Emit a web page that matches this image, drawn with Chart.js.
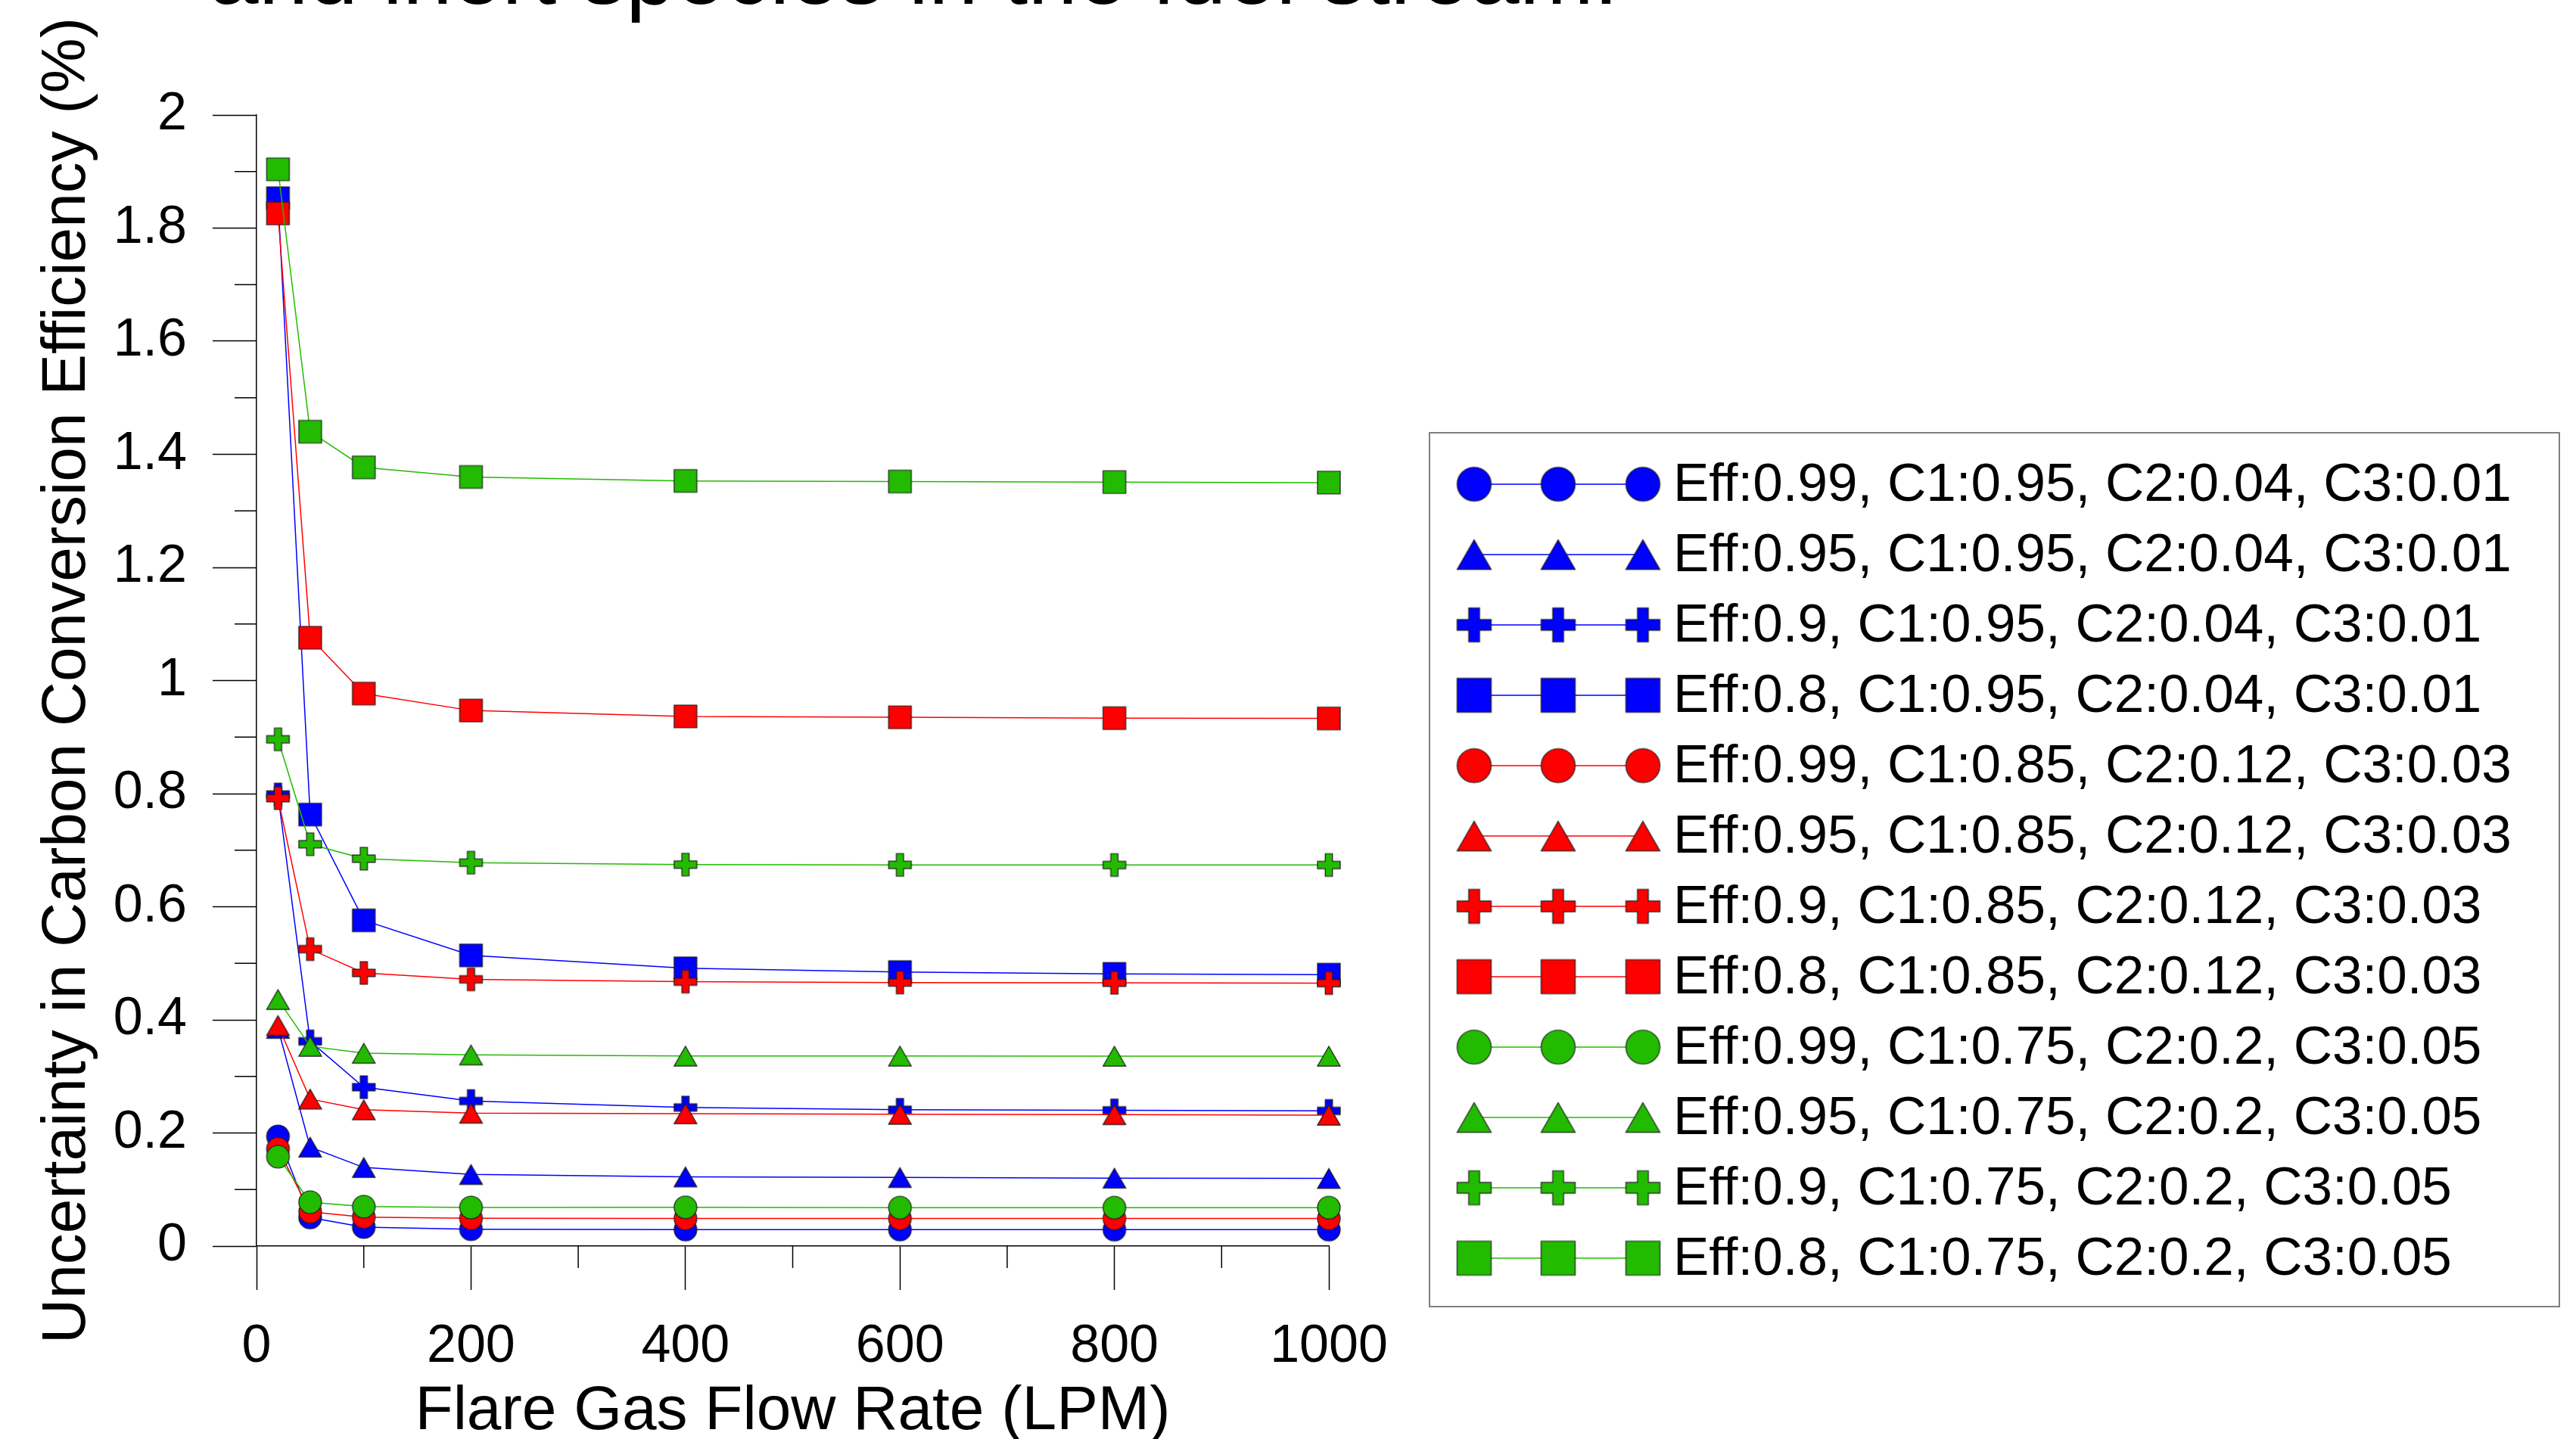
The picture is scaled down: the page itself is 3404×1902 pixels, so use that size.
<!DOCTYPE html>
<html>
<head>
<meta charset="utf-8">
<script src="https://cdn.jsdelivr.net/npm/chart.js@4/dist/chart.umd.min.js"></script>
<style>
html,body{margin:0;padding:0;background:#fff;overflow:hidden}
#wrap{width:3404px;height:1902px;position:relative}
</style>
</head>
<body>
<div id="wrap"><canvas id="c"></canvas></div>
<script>
// ---------- data ----------
const flowRates = [20, 50, 100, 200, 400, 600, 800, 1000];

const seriesLabels = [
  'Eff:0.99, C1:0.95, C2:0.04, C3:0.01',
  'Eff:0.95, C1:0.95, C2:0.04, C3:0.01',
  'Eff:0.9, C1:0.95, C2:0.04, C3:0.01',
  'Eff:0.8, C1:0.95, C2:0.04, C3:0.01',
  'Eff:0.99, C1:0.85, C2:0.12, C3:0.03',
  'Eff:0.95, C1:0.85, C2:0.12, C3:0.03',
  'Eff:0.9, C1:0.85, C2:0.12, C3:0.03',
  'Eff:0.8, C1:0.85, C2:0.12, C3:0.03',
  'Eff:0.99, C1:0.75, C2:0.2, C3:0.05',
  'Eff:0.95, C1:0.75, C2:0.2, C3:0.05',
  'Eff:0.9, C1:0.75, C2:0.2, C3:0.05',
  'Eff:0.8, C1:0.75, C2:0.2, C3:0.05'
];

const eff99_c1_95 = [0.194, 0.0505, 0.0336, 0.0297, 0.0291, 0.0291, 0.0290, 0.0290];
const eff95_c1_95 = [0.385, 0.175, 0.139, 0.1266, 0.1224, 0.1213, 0.1202, 0.1197];
const eff90_c1_95 = [0.7985, 0.362, 0.281, 0.2565, 0.245, 0.241, 0.240, 0.239];
const eff80_c1_95 = [1.853, 0.763, 0.576, 0.514, 0.4912, 0.4846, 0.4814, 0.480];
const eff99_c1_85 = [0.172, 0.0605, 0.0513, 0.049, 0.0488, 0.0488, 0.0488, 0.0487];
const eff95_c1_85 = [0.390, 0.260, 0.241, 0.235, 0.234, 0.233, 0.2325, 0.2315];
const eff90_c1_85 = [0.792, 0.525, 0.483, 0.4716, 0.4676, 0.466, 0.4656, 0.465];
const eff80_c1_85 = [1.826, 1.0757, 0.977, 0.947, 0.9366, 0.935, 0.9335, 0.933];
const eff99_c1_75 = [0.158, 0.0776, 0.0698, 0.0683, 0.0686, 0.068, 0.068, 0.068];
const eff95_c1_75 = [0.436, 0.3533, 0.341, 0.338, 0.336, 0.336, 0.3358, 0.3358];
const eff90_c1_75 = [0.896, 0.7106, 0.685, 0.678, 0.6745, 0.674, 0.6738, 0.6738];
const eff80_c1_75 = [1.904, 1.440, 1.377, 1.360, 1.353, 1.352, 1.351, 1.350];

const seriesValues = [
  eff99_c1_95, eff95_c1_95, eff90_c1_95, eff80_c1_95,
  eff99_c1_85, eff95_c1_85, eff90_c1_85, eff80_c1_85,
  eff99_c1_75, eff95_c1_75, eff90_c1_75, eff80_c1_75
];
const seriesColors = ['#0000ff','#0000ff','#0000ff','#0000ff','#ff0000','#ff0000','#ff0000','#ff0000','#22bb00','#22bb00','#22bb00','#22bb00'];
const seriesShapes = ['circle','triangle','plus','square','circle','triangle','plus','square','circle','triangle','plus','square'];

const xTickValues = [0, 200, 400, 600, 800, 1000];
const xMinorTickValues = [100, 300, 500, 700, 900];
const yTickValues = [0, 0.2, 0.4, 0.6, 0.8, 1, 1.2, 1.4, 1.6, 1.8, 2];
const yMinorTickValues = [0.1, 0.3, 0.5, 0.7, 0.9, 1.1, 1.3, 1.5, 1.7, 1.9];

const titleText = 'and inert species in the fuel stream.';
const xTitleText = 'Flare Gas Flow Rate (LPM)';
const yTitleText = 'Uncertainty in Carbon Conversion Efficiency (%)';

// ---------- marker images ----------
function makeMarker(shape, fill, size) {
  const pad = 2;
  const W = Math.ceil(size + 2 * pad);
  const c = document.createElement('canvas');
  c.width = W; c.height = W;
  const g = c.getContext('2d');
  const cx = W / 2, cy = W / 2, h = size / 2;
  g.fillStyle = fill;
  g.strokeStyle = '#1a1a1a';
  g.lineWidth = 1.2;
  g.beginPath();
  if (shape === 'circle') {
    g.arc(cx, cy, h, 0, Math.PI * 2);
  } else if (shape === 'square') {
    g.rect(cx - h, cy - h, size, size);
  } else if (shape === 'triangle') {
    const th = size * 0.87 / 2;
    g.moveTo(cx, cy - th);
    g.lineTo(cx + h, cy + th);
    g.lineTo(cx - h, cy + th);
    g.closePath();
  } else if (shape === 'plus') {
    const a = size * 0.32 / 2;
    g.moveTo(cx - a, cy - h);
    g.lineTo(cx + a, cy - h);
    g.lineTo(cx + a, cy - a);
    g.lineTo(cx + h, cy - a);
    g.lineTo(cx + h, cy + a);
    g.lineTo(cx + a, cy + a);
    g.lineTo(cx + a, cy + h);
    g.lineTo(cx - a, cy + h);
    g.lineTo(cx - a, cy + a);
    g.lineTo(cx - h, cy + a);
    g.lineTo(cx - h, cy - a);
    g.lineTo(cx - a, cy - a);
    g.closePath();
  }
  g.fill();
  g.stroke();
  return c;
}

const plotMarkers = seriesShapes.map((s, i) => makeMarker(s, seriesColors[i], 30));
const legendMarkers = seriesShapes.map((s, i) => makeMarker(s, seriesColors[i], 45));

// ---------- plugins ----------
const FONT = "'Liberation Sans', Arial, Helvetica, sans-serif";

const topTitle = {
  id: 'topTitle',
  afterDraw(chart) {
    const ctx = chart.ctx;
    ctx.save();
    ctx.fillStyle = '#000';
    ctx.font = '118px ' + FONT;
    ctx.textAlign = 'left';
    ctx.textBaseline = 'alphabetic';
    ctx.fillText(titleText, 276, 5);
    ctx.restore();
  }
};

const minorTicks = {
  id: 'minorTicks',
  afterDraw(chart) {
    const {ctx, scales: {x, y}} = chart;
    ctx.save();
    ctx.strokeStyle = '#000';
    ctx.lineWidth = 1.5;
    ctx.beginPath();
    xMinorTickValues.forEach(v => {
      const px = x.getPixelForValue(v);
      ctx.moveTo(px, y.bottom);
      ctx.lineTo(px, y.bottom + 29);
    });
    yMinorTickValues.forEach(v => {
      const py = y.getPixelForValue(v);
      ctx.moveTo(x.left - 29, py);
      ctx.lineTo(x.left, py);
    });
    ctx.stroke();
    ctx.restore();
  }
};

const boxLegend = {
  id: 'boxLegend',
  afterDraw(chart) {
    const ctx = chart.ctx;
    const left = 1889, top = 572, right = 3382, bottom = 1727;
    const rowTop = 640, rowStep = 93;
    const mx = [1948, 2059, 2171];
    const textX = 2211;
    ctx.save();
    ctx.fillStyle = '#fff';
    ctx.fillRect(left, top, right - left, bottom - top);
    ctx.strokeStyle = '#808080';
    ctx.lineWidth = 2;
    ctx.strokeRect(left, top, right - left, bottom - top);
    chart.data.datasets.forEach((ds, i) => {
      const cy = rowTop + rowStep * i;
      ctx.strokeStyle = seriesColors[i];
      ctx.lineWidth = 1.5;
      ctx.beginPath();
      ctx.moveTo(mx[0], cy);
      ctx.lineTo(mx[2], cy);
      ctx.stroke();
      const img = legendMarkers[i];
      mx.forEach(x => ctx.drawImage(img, x - img.width / 2, cy - img.height / 2));
      ctx.fillStyle = '#000';
      ctx.font = '71px ' + FONT;
      ctx.textAlign = 'left';
      ctx.textBaseline = 'middle';
      ctx.fillText(ds.label, textX, cy + 2);
    });
    ctx.restore();
  }
};

// ---------- chart ----------
Chart.defaults.font.family = FONT;
Chart.defaults.color = '#000';

const datasets = seriesValues.map((vals, i) => ({
  label: seriesLabels[i],
  data: flowRates.map((x, j) => ({x: x, y: vals[j]})),
  borderColor: seriesColors[i],
  backgroundColor: seriesColors[i],
  borderWidth: 1.5,
  pointStyle: plotMarkers[i],
  pointRadius: 15,
  pointHoverRadius: 15,
  tension: 0,
  clip: false,
  order: -i
}));

new Chart(document.getElementById('c'), {
  type: 'line',
  data: {datasets},
  options: {
    responsive: true,
    maintainAspectRatio: false,
    animation: false,
    events: [],
    layout: {padding: {left: 0, top: 152, right: 1648, bottom: 0}},
    plugins: {
      legend: {display: false},
      tooltip: {enabled: false},
      title: {display: false}
    },
    scales: {
      x: {
        type: 'linear',
        min: 0,
        max: 1000,
        afterBuildTicks: s => { s.ticks = xTickValues.map(v => ({value: v})); },
        afterFit: s => { s.height = 255; s.paddingLeft = 0; s.paddingRight = 0; },
        ticks: {
          font: {size: 70},
          color: '#000',
          padding: 34,
          maxRotation: 0,
          autoSkip: false,
          callback: v => String(v)
        },
        grid: {display: true, drawOnChartArea: false, drawTicks: true, tickLength: 58, tickColor: '#000', tickWidth: 1.5},
        border: {display: true, color: '#000', width: 1.5},
        title: {display: true, text: xTitleText, font: {size: 82}, color: '#000', padding: {top: 0, bottom: -14}}
      },
      y: {
        type: 'linear',
        min: 0,
        max: 2,
        afterBuildTicks: s => { s.ticks = yTickValues.map(v => ({value: v})); },
        afterFit: s => { s.width = 339; s.paddingTop = 0; s.paddingBottom = 0; },
        ticks: {
          font: {size: 70},
          color: '#000',
          padding: 34,
          autoSkip: false,
          callback: v => String(v)
        },
        grid: {display: true, drawOnChartArea: false, drawTicks: true, tickLength: 58, tickColor: '#000', tickWidth: 1.5},
        border: {display: true, color: '#000', width: 1.5},
        title: {display: true, text: yTitleText, font: {size: 82}, color: '#000', padding: {top: 40, bottom: 0}}
      }
    }
  },
  plugins: [topTitle, minorTicks, boxLegend]
});
</script>
</body>
</html>
